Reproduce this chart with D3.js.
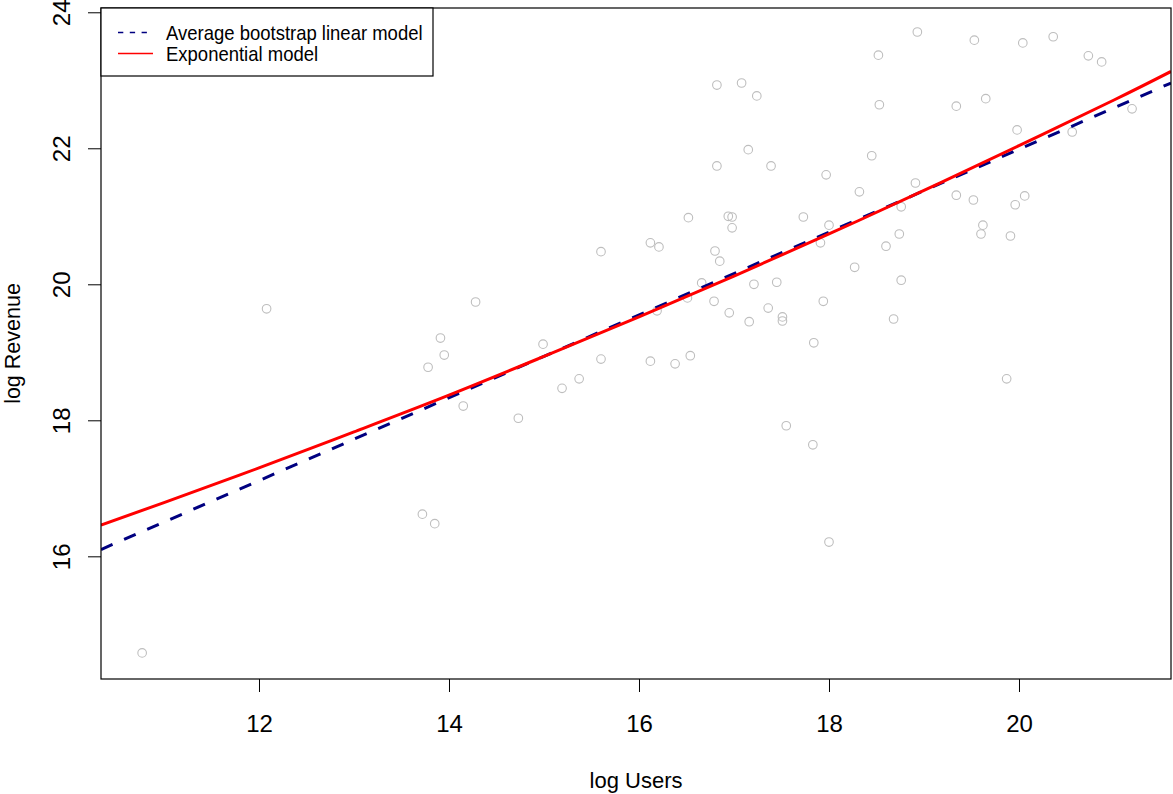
<!DOCTYPE html>
<html>
<head>
<meta charset="utf-8">
<script src="https://cdn.jsdelivr.net/npm/d3@7"></script>
<style>
  html, body { margin: 0; padding: 0; background: #fff; }
  svg { display: block; font-family: "Liberation Sans", Arial, sans-serif; }
</style>
</head>
<body>
<svg id="chart" width="1173" height="794"></svg>
<script>
// Observed companies: log of user count vs log of revenue
const logUsers = [
  10.77, 12.08, 13.72, 13.85, 13.78, 13.91, 13.95, 14.15, 14.28, 14.73,
  14.99, 15.19, 15.37, 15.60, 15.60, 16.12, 16.38, 16.54, 16.12, 16.21,
  16.51, 16.19, 16.52, 16.66, 16.79, 16.80, 16.85, 16.82, 17.08, 17.24,
  17.15, 16.82, 17.39, 16.94, 16.98, 16.98, 16.95, 17.16, 17.21, 17.36,
  17.45, 17.51, 17.51, 17.55, 17.83, 18.00, 17.84, 17.94, 17.73, 17.97,
  18.00, 17.91, 18.27, 18.32, 18.45, 18.52, 18.53, 18.60, 18.74, 18.76,
  18.76, 18.68, 18.91, 18.93, 19.34, 19.34, 19.52, 19.53, 19.65, 19.62,
  19.60, 19.91, 19.87, 19.96, 20.06, 19.98, 20.04, 20.36, 20.56, 20.73,
  20.87, 21.19
];
const logRevenue = [
  14.58, 19.64, 16.62, 16.48, 18.78, 19.21, 18.96, 18.21, 19.74, 18.03,
  19.12, 18.47, 18.61, 18.90, 20.48, 18.87, 18.83, 18.95, 20.61, 20.55,
  19.80, 19.61, 20.98, 20.02, 19.75, 20.49, 20.34, 22.93, 22.96, 22.77,
  21.98, 21.74, 21.74, 21.00, 20.99, 20.83, 19.58, 19.45, 20.00, 19.65,
  20.03, 19.52, 19.46, 17.92, 17.64, 16.21, 19.14, 19.75, 20.99, 21.61,
  20.87, 20.61, 20.25, 21.36, 21.89, 23.37, 22.64, 20.56, 20.74, 21.14,
  20.06, 19.49, 21.49, 23.71, 22.62, 21.31, 21.24, 23.59, 22.73, 20.87,
  20.74, 20.71, 18.61, 21.17, 21.30, 22.27, 23.55, 23.64, 22.24, 23.36,
  23.27, 22.58
];

// Fitted model curves (x = log Users, y = predicted log Revenue)
const linearX = [10.337, 21.60];
const linearY = [16.10, 22.96];
const expX = [10.337, 11, 12, 13, 14, 15, 16, 17, 18, 19, 20, 21, 21.60];
const expY = [16.46, 16.79, 17.30, 17.83, 18.37, 18.94, 19.52, 20.12, 20.74, 21.38, 22.04, 22.71, 23.13];

const xTicks = [12, 14, 16, 18, 20];
const yTicks = [16, 18, 20, 22, 24];
const legendLabels = ["Average bootstrap linear model", "Exponential model"];

const xDomain = [10.337, 21.60];
const yDomain = [14.196, 24.063];

const svg = d3.select("#chart");
const margin = { left: 101, top: 8, right: 2, bottom: 115 };
const W = 1173, H = 794;
const innerW = W - margin.left - margin.right;
const innerH = H - margin.top - margin.bottom;

const x = d3.scaleLinear().domain(xDomain).range([margin.left, margin.left + innerW]);
const y = d3.scaleLinear().domain(yDomain).range([margin.top + innerH, margin.top]);

svg.append("defs").append("clipPath").attr("id", "plotClip")
  .append("rect")
  .attr("x", margin.left).attr("y", margin.top)
  .attr("width", innerW).attr("height", innerH);

// points
const pts = logUsers.map((u, i) => ({ u, r: logRevenue[i] }));
svg.append("g")
  .selectAll("circle")
  .data(pts)
  .join("circle")
  .attr("cx", d => x(d.u))
  .attr("cy", d => y(d.r))
  .attr("r", 4.3)
  .attr("fill", "none")
  .attr("stroke", "#bebebe")
  .attr("stroke-width", 1.1);

const plotG = svg.append("g").attr("clip-path", "url(#plotClip)");

// linear model (dashed navy)
const linPts = linearX.map((v, i) => [v, linearY[i]]);
plotG.append("path")
  .datum(linPts)
  .attr("d", d3.line().x(d => x(d[0])).y(d => y(d[1])))
  .attr("fill", "none")
  .attr("stroke", "#000080")
  .attr("stroke-width", 3)
  .attr("stroke-dasharray", "12.6,12.6");

// exponential model (solid red)
const expPts = expX.map((v, i) => [v, expY[i]]);
plotG.append("path")
  .datum(expPts)
  .attr("d", d3.line().curve(d3.curveNatural).x(d => x(d[0])).y(d => y(d[1])))
  .attr("fill", "none")
  .attr("stroke", "#ff0000")
  .attr("stroke-width", 3);

// axes
const xAxis = svg.append("g")
  .attr("transform", `translate(0,${margin.top + innerH})`)
  .call(d3.axisBottom(x).tickValues(xTicks).tickSize(13).tickFormat(d3.format("d")));
xAxis.select(".domain").remove();
xAxis.selectAll(".tick line").attr("stroke", "#000").attr("stroke-width", 1);
xAxis.selectAll(".tick text")
  .attr("y", 53).attr("dy", 0)
  .attr("fill", "#000")
  .style("font-size", "24px")
  .style("font-family", "'Liberation Sans', Arial, sans-serif");

const yAxis = svg.append("g")
  .attr("transform", `translate(${margin.left},0)`)
  .call(d3.axisLeft(y).tickValues(yTicks).tickSize(13).tickFormat(d3.format("d")));
yAxis.select(".domain").remove();
yAxis.selectAll(".tick line").attr("stroke", "#000").attr("stroke-width", 1);
yAxis.selectAll(".tick text")
  .attr("transform", "rotate(-90)")
  .attr("x", 0).attr("y", -31).attr("dy", 0)
  .attr("text-anchor", "middle")
  .attr("fill", "#000")
  .style("font-size", "24px")
  .style("font-family", "'Liberation Sans', Arial, sans-serif");

// plot frame
svg.append("rect")
  .attr("x", margin.left).attr("y", margin.top)
  .attr("width", innerW).attr("height", innerH)
  .attr("fill", "none").attr("stroke", "#000").attr("stroke-width", 1.2);

// axis titles
svg.append("text")
  .attr("x", margin.left + innerW / 2).attr("y", 788)
  .attr("text-anchor", "middle")
  .style("font-size", "22px")
  .text("log Users");

svg.append("text")
  .attr("transform", `translate(20,${margin.top + innerH / 2}) rotate(-90)`)
  .attr("text-anchor", "middle")
  .style("font-size", "21.5px")
  .text("log Revenue");

// legend
const lg = svg.append("g");
lg.append("rect")
  .attr("x", margin.left).attr("y", margin.top)
  .attr("width", 332).attr("height", 68)
  .attr("fill", "#fff").attr("stroke", "#000").attr("stroke-width", 1.2);
const legendStyles = [
  { color: "#000080", dash: "5.3,6.5" },
  { color: "#ff0000", dash: null }
];
legendLabels.forEach((lab, i) => {
  const cy = 32.5 + i * 21;
  lg.append("line")
    .attr("x1", 118).attr("x2", 153)
    .attr("y1", cy).attr("y2", cy)
    .attr("stroke", legendStyles[i].color)
    .attr("stroke-width", 1.3)
    .attr("stroke-dasharray", legendStyles[i].dash);
  // slightly condensed label text
  lg.append("text")
    .attr("transform", `translate(166,${cy + 7}) scale(0.925,1)`)
    .style("font-size", "20px")
    .text(lab);
});
</script>
</body>
</html>
